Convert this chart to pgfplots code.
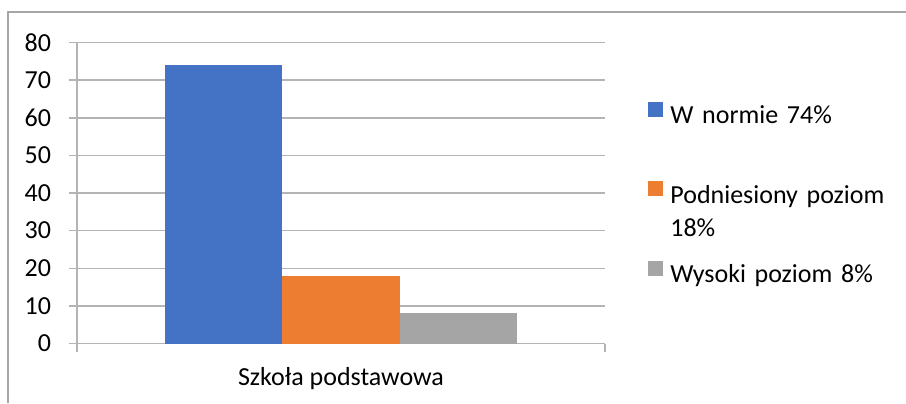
\documentclass[border=0pt]{standalone}
\usepackage{pgfplots}
\pgfplotsset{compat=1.18}
\usepackage{fontspec}
\setmainfont{Carlito}
\definecolor{cblue}{HTML}{4472C4}
\definecolor{corange}{HTML}{ED7D31}
\definecolor{cgray}{HTML}{A5A5A5}
\definecolor{gridc}{HTML}{B4B4B4}
\definecolor{borderc}{HTML}{A6A6A6}
\pgfplotsset{sqlegend/.style={legend image code/.code={\fill[##1] (0pt,0pt) rectangle (7.5pt,7.5pt);}}}
\begin{document}
\begin{tikzpicture}
\path[use as bounding box] (0,0) rectangle (453pt,201.5pt);
\draw[borderc, line width=0.8pt] (4pt,0pt) -- (4pt,195.5pt) -- (453pt,195.5pt);
\begin{axis}[
  at={(38.5pt,29.75pt)}, anchor=south west,
  scale only axis, width=264pt, height=150.5pt,
  ybar=0pt, bar width=58.75pt,
  xmin=-1, xmax=1, ymin=0, ymax=80,
  ytick={0,10,...,80},
  xtick={-1,1}, xticklabels={,},
  extra x ticks={0}, extra x tick labels={Szkoła podstawowa},
  extra x tick style={major tick length=0pt, xticklabel style={anchor=base, yshift=-21pt}},
  axis x line=bottom, axis y line=left,
  axis line style={gridc, line width=0.75pt, -},
  tick align=outside, major tick length=4pt,
  tick style={gridc, line width=0.75pt},
  ymajorgrids, grid style={gridc, line width=0.75pt},
  font=\fontsize{13}{16.5}\selectfont,
  ticklabel style={font=\fontsize{13}{16.5}\selectfont, text=black},
  /pgf/number format/assume math mode=true,
  yticklabel style={anchor=east, inner sep=0pt, xshift=-8.8pt},
  legend style={at={(1.0814,0.805)}, anchor=north west, draw=none, fill=none,
    inner sep=0pt, row sep=25.75pt, column sep=3.5pt,
    nodes={inner sep=0pt, text height=10pt, text depth=3pt, text width=120pt, align=left,
      font=\fontsize{13}{16.5}\selectfont}},
  legend cell align=left,
]
\addplot[fill=cblue, draw=none, sqlegend] coordinates {(0,74)};
\addlegendentry{W normie 74\%}
\addplot[fill=corange, draw=none, sqlegend] coordinates {(0,18)};
\addlegendentry{Podniesiony poziom\\18\%}
\addplot[fill=cgray, draw=none, sqlegend] coordinates {(0,8)};
\addlegendentry{Wysoki poziom 8\%}
\end{axis}
\end{tikzpicture}
\end{document}
